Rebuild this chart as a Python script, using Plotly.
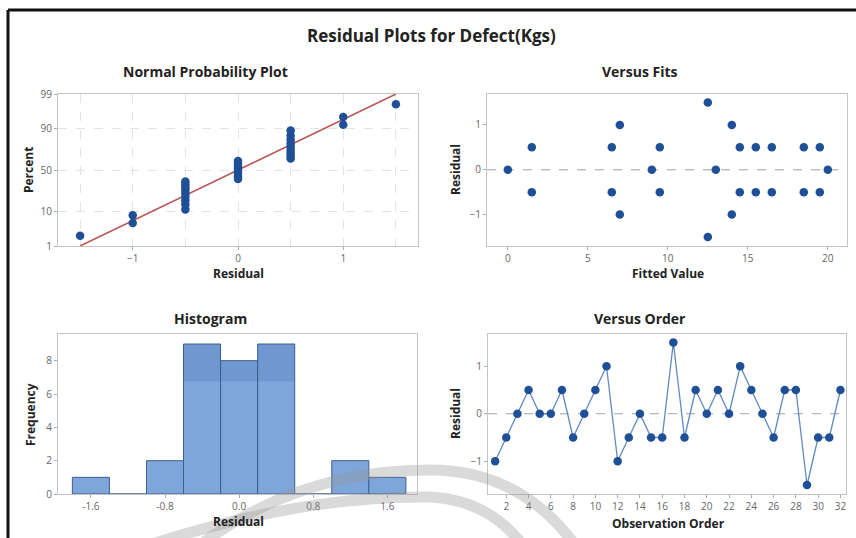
from statistics import NormalDist

import plotly.graph_objects as go
from plotly.subplots import make_subplots

# ---------------------------------------------
# data
# ---------------------------------------------

# normal probability plot (sorted residuals and plotted percents)
npp_residual = [-1.5, -1, -1] + [-0.5] * 9 + [0] * 8 + [0.5] * 9 + [1, 1, 1.5]
npp_percent = [
    2.2, 5.2, 8.3, 11.4, 14.5, 17.6, 20.7, 23.8, 26.9, 29.9, 33.0,
    36.1, 39.2, 42.3, 45.4, 48.5, 51.5, 54.6, 57.7, 60.8, 63.9, 67.0,
    70.1, 73.1, 76.2, 79.3, 82.4, 85.5, 88.6, 91.7, 94.8, 97.8,
]
fit_line_residual = [-1.5, 1.5]
fit_line_percent = [1, 99]
percent_ticks = [1, 10, 50, 90, 99]

# versus fits
fitted_values = [
    0, 1.5, 1.5, 6.5, 6.5, 7, 7, 9, 9.5, 9.5, 12.5, 12.5, 13,
    14, 14, 14.5, 14.5, 15.5, 15.5, 16.5, 16.5, 18.5, 18.5, 19.5, 19.5, 20,
]
fits_residual = [
    0, 0.5, -0.5, 0.5, -0.5, 1, -1, 0, 0.5, -0.5, 1.5, -1.5, 0,
    1, -1, 0.5, -0.5, 0.5, -0.5, 0.5, -0.5, 0.5, -0.5, 0.5, -0.5, 0,
]

# histogram
bin_centers = [-1.6, -1.2, -0.8, -0.4, 0.0, 0.4, 0.8, 1.2, 1.6]
bin_counts = [1, 0, 2, 9, 8, 9, 0, 2, 1]
hist_ticks = [-1.6, -0.8, 0.0, 0.8, 1.6]

# versus order
observation = list(range(1, 33))
order_residual = [
    -1, -0.5, 0, 0.5, 0, 0, 0.5, -0.5, 0, 0.5, 1, -1, -0.5, 0, -0.5, -0.5,
    1.5, -0.5, 0.5, 0, 0.5, 0, 1, 0.5, 0, -0.5, 0.5, 0.5, -1.5, -0.5, -0.5, 0.5,
]

# ---------------------------------------------

W, H = 856, 538
FONT = "Open Sans"
DOT = "#1f4f96"
FRAME = "#c4c4c4"
TICK = "#666666"
GRID = "#e3e3e3"
SHADE_FROM = 6.75   # darker band seen on the top of the tall bars


def z(p):
    return NormalDist().inv_cdf(p / 100)


def px(x, y):
    return x / W, 1 - y / H


fig = make_subplots(rows=2, cols=2)

# normal probability plot
fig.add_trace(go.Scatter(
    x=fit_line_residual, y=[z(p) for p in fit_line_percent],
    mode="lines", line=dict(color="#b8544f", width=1.5),
), row=1, col=1)
fig.add_trace(go.Scatter(
    x=npp_residual, y=[z(p) for p in npp_percent],
    mode="markers", marker=dict(color=DOT, size=8.5),
), row=1, col=1)

# versus fits
fig.add_trace(go.Scatter(
    x=fitted_values, y=fits_residual,
    mode="markers", marker=dict(color=DOT, size=8.5),
), row=1, col=2)

# histogram
fig.add_trace(go.Bar(
    x=bin_centers, y=bin_counts, width=0.4,
    marker=dict(color="#7ea6db", line=dict(color="#3e5f8c", width=1)),
), row=2, col=1)
fig.add_trace(go.Bar(
    x=bin_centers,
    y=[max(c - SHADE_FROM, 0) for c in bin_counts],
    base=SHADE_FROM, width=0.4,
    marker=dict(color="rgba(40,80,160,0.16)", line=dict(width=0)),
), row=2, col=1)

# versus order
fig.add_trace(go.Scatter(
    x=observation, y=order_residual,
    mode="lines+markers",
    line=dict(color="#5f8ac4", width=1.3),
    marker=dict(color=DOT, size=8.5),
), row=2, col=2)

axis_common = dict(
    showline=True, mirror=True, linecolor=FRAME, linewidth=1,
    ticks="outside", ticklen=3, tickcolor="#aaaaaa",
    tickfont=dict(family=FONT, size=10, color=TICK),
    zeroline=False, showgrid=False, automargin=False,
)


def dom(x0, x1, y0, y1):
    return [x0 / W, x1 / W], [1 - y1 / H, 1 - y0 / H]


npp_x, npp_y = dom(58, 418, 94, 246)
fit_x, fit_y = dom(487, 847, 94, 246)
his_x, his_y = dom(58, 417, 334, 494)
ord_x, ord_y = dom(488, 846, 334, 494)

fig.update_xaxes(axis_common)
fig.update_yaxes(axis_common)

fig.update_xaxes(
    domain=npp_x, range=[-1.71, 1.71], tickvals=[-1, 0, 1],
    showgrid=True, gridcolor=GRID, griddash="dash",
    minor=dict(tick0=0, dtick=0.5, showgrid=True, gridcolor=GRID,
               griddash="dash", ticks=""),
    row=1, col=1,
)
fig.update_yaxes(
    domain=npp_y, range=[z(1), z(99)],
    tickvals=[z(p) for p in percent_ticks],
    ticktext=[str(p) for p in percent_ticks],
    showgrid=True, gridcolor=GRID, griddash="dash",
    row=1, col=1,
)
fig.update_xaxes(domain=fit_x, range=[-1.3, 21.2], tickvals=[0, 5, 10, 15, 20], row=1, col=2)
fig.update_yaxes(domain=fit_y, range=[-1.7, 1.69], tickvals=[-1, 0, 1], row=1, col=2)
fig.update_xaxes(
    domain=his_x, range=[-1.955, 1.92], tickvals=hist_ticks,
    ticktext=[f"{t:.1f}" for t in hist_ticks], row=2, col=1,
)
fig.update_yaxes(domain=his_y, range=[0, 9.6], tickvals=[0, 2, 4, 6, 8], row=2, col=1)
fig.update_xaxes(domain=ord_x, range=[0.36, 32.5], tickvals=list(range(2, 33, 2)), row=2, col=2)
fig.update_yaxes(domain=ord_y, range=[-1.69, 1.68], tickvals=[-1, 0, 1], row=2, col=2)

# dashed zero reference lines
for xref, yref, xr in (("x2", "y2", [-1.3, 21.2]), ("x4", "y4", [0.36, 32.5])):
    fig.add_shape(
        type="line", xref=xref, yref=yref, x0=xr[0], x1=xr[1], y0=0, y1=0,
        line=dict(color="#9aa3ad", width=1, dash="dash"), layer="below",
    )

annotations = []


def label(text, x, y, size, angle=0, color="#222222"):
    ax, ay = px(x, y)
    annotations.append(dict(
        text=f"<b>{text}</b>", x=ax, y=ay, xref="paper", yref="paper",
        showarrow=False, textangle=angle, xanchor="center", yanchor="middle",
        font=dict(family=FONT, size=size, color=color),
    ))


label("Residual Plots for Defect(Kgs)", 432, 35, 17)
label("Normal Probability Plot", 205, 71, 14)
label("Versus Fits", 640, 71, 14)
label("Histogram", 210, 318, 14)
label("Versus Order", 640, 318, 14)

label("Percent", 28, 170, 12, -90)
label("Residual", 238, 273, 12)
label("Residual", 455, 170, 12, -90)
label("Fitted Value", 668, 273, 12)
label("Frequency", 30, 414, 12, -90)
label("Residual", 238, 521, 12)
label("Residual", 455, 414, 12, -90)
label("Observation Order", 668, 523, 12)

shapes = []

# black frame edges of the screenshot
x0, y0 = px(8, 10)
x1, _ = px(856, 10)
_, y1 = px(8, 540)
shapes.append(dict(type="line", xref="paper", yref="paper", x0=x0, y0=y0, x1=x1, y1=y0,
                   line=dict(color="#111111", width=3)))
shapes.append(dict(type="line", xref="paper", yref="paper", x0=x0, y0=y0, x1=x0, y1=y1,
                   line=dict(color="#111111", width=3)))


def path(points):
    (sx, sy), rest = points[0], points[1:]
    a, b = px(sx, sy)
    s = f"M {a:.4f} {b:.4f}"
    for i in range(0, len(rest), 2):
        (cx, cy), (ex, ey) = rest[i], rest[i + 1]
        c1, c2 = px(cx, cy)
        e1, e2 = px(ex, ey)
        s += f" Q {c1:.4f} {c2:.4f} {e1:.4f} {e2:.4f}"
    return s


# faint watermark swooshes at the bottom
for pts in (
    [(200, 545), (300, 470), (430, 470), (520, 470), (575, 545)],
    [(140, 548), (300, 495), (430, 497), (490, 500), (525, 548)],
):
    shapes.append(dict(
        type="path", xref="paper", yref="paper", path=path(pts),
        line=dict(color="rgba(150,150,150,0.35)", width=11), layer="above",
    ))

fig.update_layout(
    width=W, height=H,
    margin=dict(l=0, r=0, t=0, b=0, pad=0),
    paper_bgcolor="white", plot_bgcolor="white",
    showlegend=False,
    barmode="overlay",
    annotations=annotations,
    shapes=list(fig.layout.shapes) + shapes,
    font=dict(family=FONT),
)

fig.write_html(
    "out.html",
    config={"displayModeBar": False},
    post_script="document.body.style.margin = '0px';",
)
